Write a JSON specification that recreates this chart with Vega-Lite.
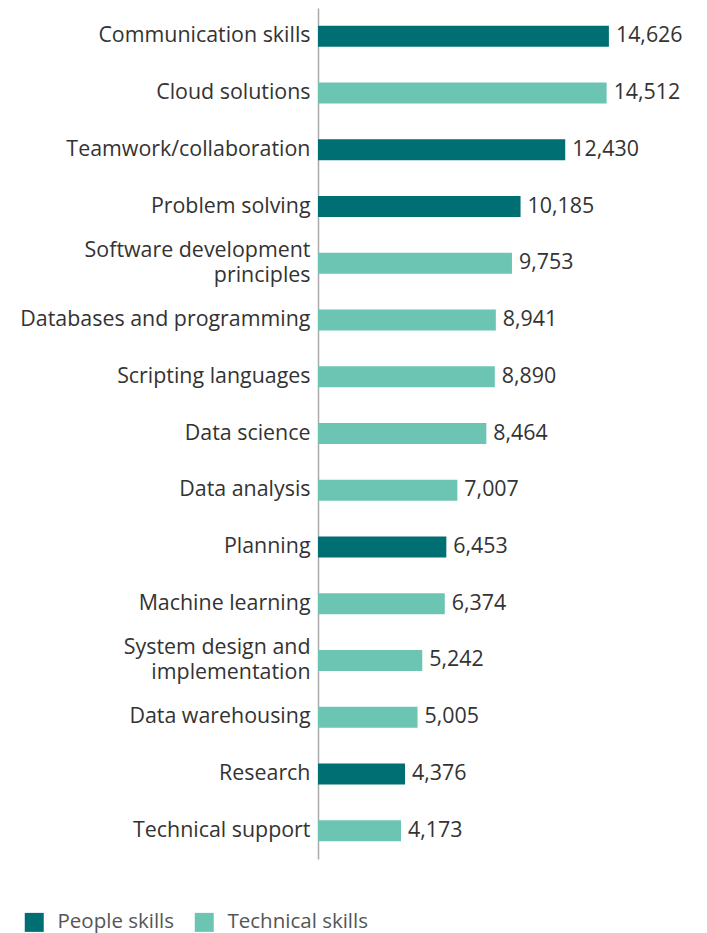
{
  "$schema": "https://vega.github.io/schema/vega-lite/v6.json",
  "autosize": {"type": "none"},
  "width": 358,
  "height": 851,
  "padding": {"left": 318, "top": 8, "right": 31, "bottom": 74},
  "background": "white",
  "config": {
    "font": "Open Sans",
    "view": {"stroke": null}
  },
  "data": {
    "values": [
      {"skill": "Communication skills", "value": 14626, "type": "People skills"},
      {"skill": "Cloud solutions", "value": 14512, "type": "Technical skills"},
      {"skill": "Teamwork/collaboration", "value": 12430, "type": "People skills"},
      {"skill": "Problem solving", "value": 10185, "type": "People skills"},
      {"skill": "Software development|principles", "value": 9753, "type": "Technical skills"},
      {"skill": "Databases and programming", "value": 8941, "type": "Technical skills"},
      {"skill": "Scripting languages", "value": 8890, "type": "Technical skills"},
      {"skill": "Data science", "value": 8464, "type": "Technical skills"},
      {"skill": "Data analysis", "value": 7007, "type": "Technical skills"},
      {"skill": "Planning", "value": 6453, "type": "People skills"},
      {"skill": "Machine learning", "value": 6374, "type": "Technical skills"},
      {"skill": "System design and|implementation", "value": 5242, "type": "Technical skills"},
      {"skill": "Data warehousing", "value": 5005, "type": "Technical skills"},
      {"skill": "Research", "value": 4376, "type": "People skills"},
      {"skill": "Technical support", "value": 4173, "type": "Technical skills"}
    ]
  },
  "encoding": {
    "y": {
      "field": "skill",
      "type": "nominal",
      "sort": null,
      "scale": {"paddingInner": 0.63, "paddingOuter": 0.315},
      "axis": {
        "title": null,
        "ticks": false,
        "domainColor": "#aaaaaa",
        "domainWidth": 1.5,
        "labelFontSize": 21.4,
        "labelColor": "#333333",
        "labelPadding": 8,
        "labelLineHeight": 25,
        "labelLimit": 400,
        "labelOffset": {"condition": {"test": "indexof(datum.value, '|') >= 0", "value": -12.5}, "value": 0},
        "labelExpr": "split(datum.label, '|')"
      }
    },
    "x": {
      "field": "value",
      "type": "quantitative",
      "scale": {"domain": [0, 18000]},
      "axis": null
    }
  },
  "layer": [
    {
      "mark": {"type": "bar"},
      "encoding": {
        "color": {
          "field": "type",
          "type": "nominal",
          "scale": {"domain": ["People skills", "Technical skills"], "range": ["#006F74", "#6CC4B2"]},
          "legend": {
            "title": null,
            "orient": "none",
            "direction": "horizontal",
            "legendX": -294,
            "legendY": 904,
            "symbolType": "square",
            "symbolSize": 361,
            "symbolStrokeWidth": 0,
            "symbolOpacity": 1,
            "labelFontSize": 20.5,
            "labelColor": "#555555",
            "labelOffset": 13,
            "columnPadding": 19,
            "labelLimit": 300
          }
        }
      }
    },
    {
      "mark": {"type": "text", "align": "left", "baseline": "middle", "dx": 7, "fontSize": 21.4, "color": "#333333"},
      "encoding": {
        "text": {"field": "value", "type": "quantitative", "format": ","}
      }
    }
  ]
}
